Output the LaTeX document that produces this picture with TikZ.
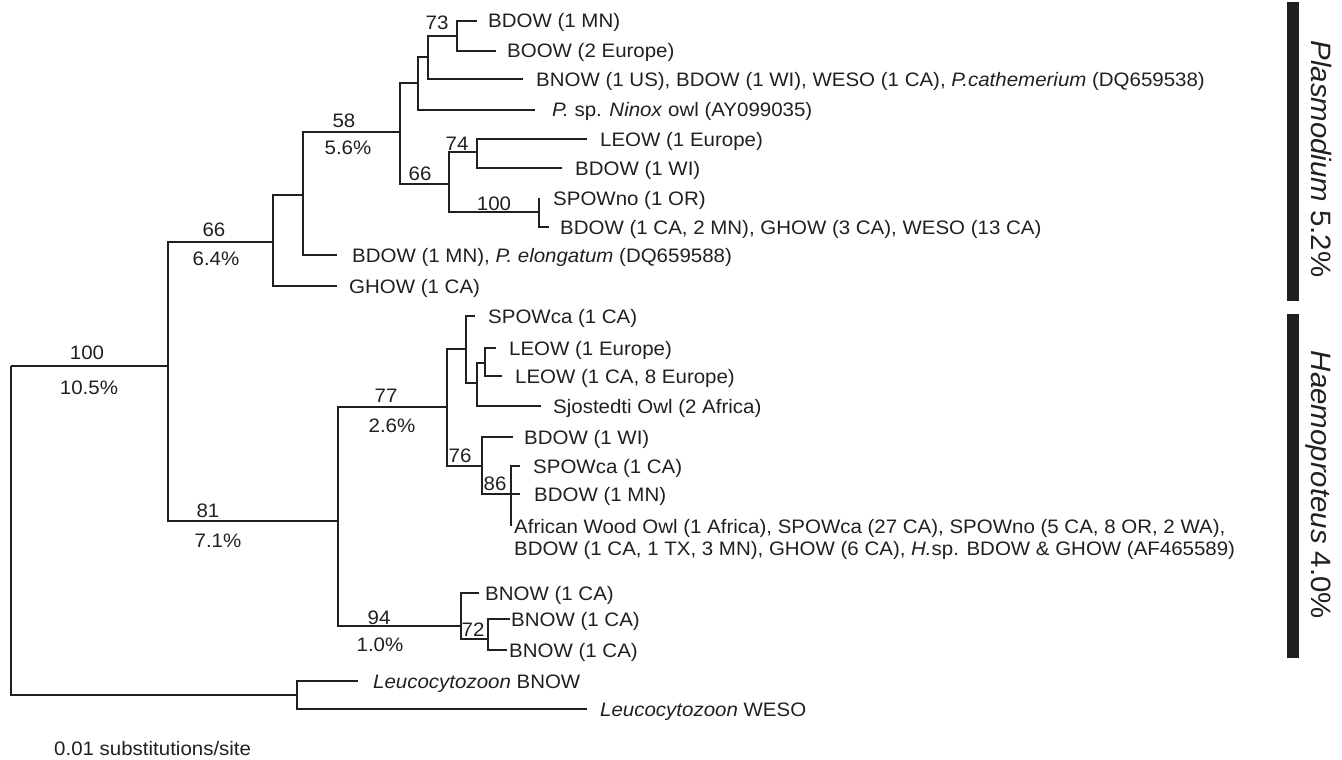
\documentclass[tikz,border=0pt]{standalone}
\usepackage{fontspec}
\setmainfont{Liberation Sans}[FakeStretch=1.05]
\definecolor{ink}{HTML}{231F20}
\newcommand\lblfont{\fontsize{19.5}{24}\selectfont}
\newcommand\bigfont{\fontsize{28}{32}\selectfont}
\begin{document}
\begin{tikzpicture}[x=1pt,y=-1pt,
  br/.style={line width=1.3pt, draw=ink},
  lab/.style={anchor=base west, inner sep=0pt, font=\lblfont, text=ink},
  num/.style={anchor=base, inner sep=0pt, font=\lblfont, text=ink},
  rot/.style={anchor=base, inner sep=0pt, font=\bigfont, text=ink, rotate=-90},
  bar/.style={fill=ink}]
\useasboundingbox (0,0) rectangle (1342,760);
% internal nodes
\coordinate (R) at (11,366);
\coordinate (n100) at (168,366);
\coordinate (n66) at (273,242);
\coordinate (nA) at (303,195);
\coordinate (n58) at (400,132);
\coordinate (nB) at (418,83);
\coordinate (nC) at (428,57);
\coordinate (n73) at (457,36);
\coordinate (n66b) at (449,184);
\coordinate (n74) at (477,152);
\coordinate (n100b) at (539,212);
\coordinate (n81) at (338,521);
\coordinate (n77) at (447,407);
\coordinate (nD) at (466,349);
\coordinate (nE) at (477,383);
\coordinate (nF) at (485,363);
\coordinate (n76) at (482,466);
\coordinate (n86) at (511,494);
\coordinate (n94) at (461,626);
\coordinate (n72) at (488,639);
\coordinate (nL) at (297,695);
% leaf ends
\coordinate (e1) at (477,21);
\coordinate (e2) at (496,51);
\coordinate (e3) at (523,79);
\coordinate (e4) at (535,110);
\coordinate (e5) at (587,139);
\coordinate (e6) at (562,168);
\coordinate (e7) at (539,198);
\coordinate (e8) at (549,227);
\coordinate (e9) at (337,255);
\coordinate (e10) at (337,286);
\coordinate (e11) at (475,316);
\coordinate (e12) at (496,348);
\coordinate (e13) at (502,376);
\coordinate (e14) at (541,406);
\coordinate (e15) at (513,437);
\coordinate (e16) at (520,466);
\coordinate (e17) at (520,494);
\coordinate (e18) at (511,526);
\coordinate (e19) at (479,593);
\coordinate (e20) at (510,619);
\coordinate (e21) at (507,650);
\coordinate (e22) at (358,681);
\coordinate (e23) at (587,709);
% branches
\draw[br] (R) |- (n100);
\draw[br] (R) |- (nL);
\draw[br] (n100) |- (n66);
\draw[br] (n100) |- (n81);
\draw[br] (n66) |- (nA);
\draw[br] (n66) |- (e10);
\draw[br] (nA) |- (n58);
\draw[br] (nA) |- (e9);
\draw[br] (n58) |- (nB);
\draw[br] (n58) |- (n66b);
\draw[br] (nB) |- (nC);
\draw[br] (nB) |- (e4);
\draw[br] (nC) |- (n73);
\draw[br] (nC) |- (e3);
\draw[br] (n73) |- (e1);
\draw[br] (n73) |- (e2);
\draw[br] (n66b) |- (n74);
\draw[br] (n66b) |- (n100b);
\draw[br] (n74) |- (e5);
\draw[br] (n74) |- (e6);
\draw[br] (n100b) |- (e7);
\draw[br] (n100b) |- (e8);
\draw[br] (n81) |- (n77);
\draw[br] (n81) |- (n94);
\draw[br] (n77) |- (nD);
\draw[br] (n77) |- (n76);
\draw[br] (nD) |- (e11);
\draw[br] (nD) |- (nE);
\draw[br] (nE) |- (nF);
\draw[br] (nE) |- (e14);
\draw[br] (nF) |- (e12);
\draw[br] (nF) |- (e13);
\draw[br] (n76) |- (e15);
\draw[br] (n76) |- (n86);
\draw[br] (n86) |- (e16);
\draw[br] (n86) |- (e17);
\draw[br] (n86) |- (e18);
\draw[br] (n94) |- (e19);
\draw[br] (n94) |- (n72);
\draw[br] (n72) |- (e20);
\draw[br] (n72) |- (e21);
\draw[br] (nL) |- (e22);
\draw[br] (nL) |- (e23);
% leaf labels
\node[lab] (t1) at (488,28) {BDOW (1 MN)};
\node[lab] (t2) at (507,58) {BOOW (2 Europe)};
\node[lab] (t3) at (536,86) {BNOW (1 US), BDOW (1 WI), WESO (1 CA), \textit{P.cathemerium} (DQ659538)};
\node[lab] (t4) at (552,117) {\textit{P.} sp. \textit{Ninox} owl (AY099035)};
\node[lab] (t5) at (600,146) {LEOW (1 Europe)};
\node[lab] (t6) at (575,175) {BDOW (1 WI)};
\node[lab] (t7) at (553,205) {SPOWno (1 OR)};
\node[lab] (t8) at (560,234) {BDOW (1 CA, 2 MN), GHOW (3 CA), WESO (13 CA)};
\node[lab] (t9) at (352,262) {BDOW (1 MN), \textit{P. elongatum} (DQ659588)};
\node[lab] (t10) at (349,293) {GHOW (1 CA)};
\node[lab] (t11) at (488,323) {SPOWca (1 CA)};
\node[lab] (t12) at (509,355) {LEOW (1 Europe)};
\node[lab] (t13) at (515,383) {LEOW (1 CA, 8 Europe)};
\node[lab] (t14) at (553,413) {Sjostedti Owl (2 Africa)};
\node[lab] (t15) at (524,444) {BDOW (1 WI)};
\node[lab] (t16) at (533,473) {SPOWca (1 CA)};
\node[lab] (t17) at (534,501) {BDOW (1 MN)};
\node[lab] (t18a) at (514,533) {African Wood Owl (1 Africa), SPOWca (27 CA), SPOWno (5 CA, 8 OR, 2 WA),};
\node[lab] (t18b) at (514,555) {BDOW (1 CA, 1 TX, 3 MN), GHOW (6 CA), \textit{H.}sp. BDOW \& GHOW (AF465589)};
\node[lab] (t19) at (485,600) {BNOW (1 CA)};
\node[lab] (t20) at (511,626) {BNOW (1 CA)};
\node[lab] (t21) at (509,657) {BNOW (1 CA)};
\node[lab] (t22) at (373,688) {\textit{Leucocytozoon} BNOW};
\node[lab] (t23) at (600,716) {\textit{Leucocytozoon} WESO};
% support values
\node[num] (b100) at (87,359) {100};
\node[num] (p100) at (89,394) {10.5\%};
\node[num] (b66) at (214,236) {66};
\node[num] (p66) at (216,265) {6.4\%};
\node[num] (b58) at (344,127) {58};
\node[num] (p58) at (348,154) {5.6\%};
\node[num] (b73) at (437,30) {73};
\node[num] (b74) at (457,150) {74};
\node[num] (b66b) at (420,180) {66};
\node[num] (b100b) at (494,210) {100};
\node[num] (b77) at (386,402) {77};
\node[num] (p77) at (392,432) {2.6\%};
\node[num] (b81) at (208,517) {81};
\node[num] (p81) at (218,547) {7.1\%};
\node[num] (b76) at (460,462) {76};
\node[num] (b86) at (495,490) {86};
\node[num] (b94) at (379,624) {94};
\node[num] (p94) at (380,651) {1.0\%};
\node[num] (b72) at (473,636) {72};
% scale
\node[lab] (scale) at (54,755) {0.01 substitutions/site};
% genus bars
\fill[bar] (1287,2) rectangle (1299,301);
\fill[bar] (1287,314) rectangle (1299,658);
\node[rot] (plas) at (1311,159) {\textit{Plasmodium} 5.2\%};
\node[rot] (haem) at (1311,485) {\textit{Haemoproteus} 4.0\%};
\end{tikzpicture}
\end{document}
